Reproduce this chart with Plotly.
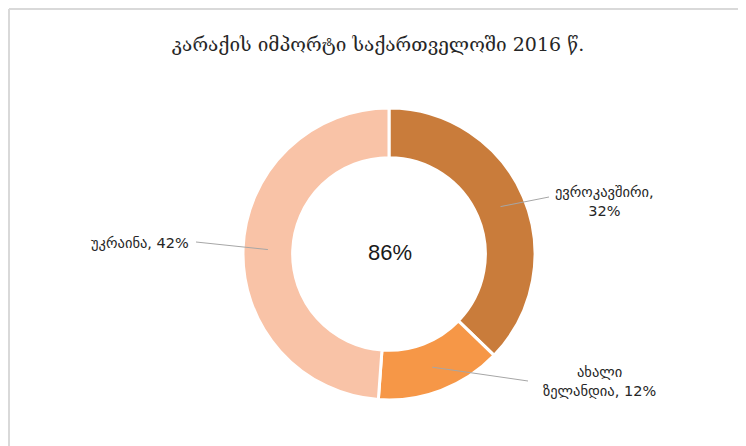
import math
import plotly.graph_objects as go

W, H = 746, 446
OX, OY = 8, 8  # page body margin offset of the rendered figure

title_text = "კარაქის იმპორტი საქართველოში 2016 წ."
categories = ["ევროკავშირი", "ახალი ზელანდია", "უკრაინა"]
values = [32, 12, 42]
label_texts = ["ევროკავშირი,<br>32%", "ახალი<br>ზელანდია, 12%", "უკრაინა, 42%"]
colors = ["#C97C3B", "#F69747", "#F9C3A7"]
center_text = f"{sum(values)}%"

# geometry (screen pixels)
cx, cy, R = 389, 254, 146
hole = 0.66
# label anchor positions and leader-line ends (screen pixels)
label_pos = [(604, 202), (599, 381), (191, 243)]
label_align = ["center", "center", "right"]
line_end = [(549, 197), (528, 381), (196, 242)]


def px(x):
    return (x - OX) / W


def py(y):
    return 1 - (y - OY) / H


fig = go.Figure(go.Pie(
    labels=categories,
    values=values,
    hole=hole,
    sort=False,
    direction="clockwise",
    rotation=0,
    textinfo="none",
    hoverinfo="label+value",
    marker=dict(colors=colors, line=dict(color="white", width=3)),
    domain=dict(x=[px(cx - R), px(cx + R)], y=[py(cy + R), py(cy - R)]),
    showlegend=False,
))

shapes = []
annotations = []
total = sum(values)
cum = 0
rmid = R * (1 + hole) / 2
for i, v in enumerate(values):
    mid = (cum + v / 2) / total * 2 * math.pi
    cum += v
    sx = cx + rmid * math.sin(mid)
    sy = cy - rmid * math.cos(mid)
    ex, ey = line_end[i]
    shapes.append(dict(type="line", xref="paper", yref="paper",
                       x0=px(sx), y0=py(sy), x1=px(ex), y1=py(ey),
                       line=dict(color="#A6A6A6", width=1)))
    lx, ly = label_pos[i]
    xanchor = "right" if label_align[i] == "right" else "center"
    annotations.append(dict(xref="paper", yref="paper", x=px(lx), y=py(ly),
                            text=label_texts[i], showarrow=False,
                            xanchor=xanchor, yanchor="middle",
                            align=label_align[i],
                            font=dict(size=14.5, color="#262626",
                                      family="DejaVu Sans")))

annotations.append(dict(xref="paper", yref="paper", x=px(cx + 1), y=py(cy - 2),
                        text=center_text, showarrow=False,
                        xanchor="center", yanchor="middle",
                        font=dict(size=22, color="#1a1a1a",
                                  family="Liberation Sans")))

# frame lines
shapes.append(dict(type="line", xref="paper", yref="paper",
                   x0=px(9), y0=py(9), x1=px(760), y1=py(9),
                   line=dict(color="#D9D9D9", width=2)))
shapes.append(dict(type="line", xref="paper", yref="paper",
                   x0=px(9), y0=py(9), x1=px(9), y1=py(460),
                   line=dict(color="#D9D9D9", width=2)))

fig.update_layout(
    width=W, height=H,
    margin=dict(l=0, r=0, t=0, b=0),
    paper_bgcolor="white",
    plot_bgcolor="white",
    title=dict(text=title_text, x=px(378), y=py(44), xanchor="center",
               yanchor="middle",
               font=dict(size=19, color="#262626", family="DejaVu Serif")),
    shapes=shapes,
    annotations=annotations,
)

fig.write_html("out.html")
